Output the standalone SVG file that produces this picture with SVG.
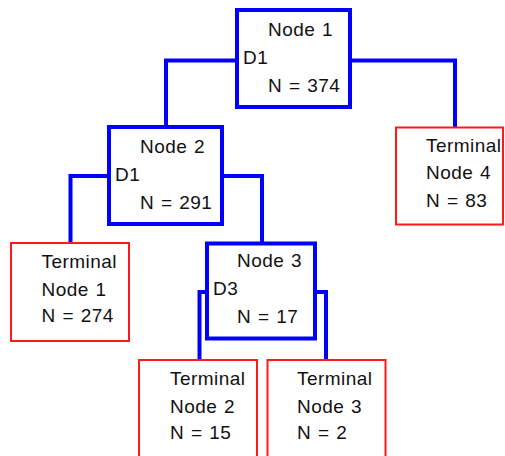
<svg xmlns="http://www.w3.org/2000/svg" width="505" height="456" viewBox="0 0 505 456">
  <style>
    .split { fill: #ffffff; stroke: #0000ff; stroke-width: 4; }
    .leaf { fill: #ffffff; stroke: #ff1a1a; stroke-width: 2; }
    .edge { fill: none; stroke: #0000ff; stroke-width: 4; }
    text { font-family: "Liberation Sans", Arial, sans-serif; font-size: 19px; letter-spacing: 0.45px; word-spacing: 1px; fill: #111111; }
  </style>
  <rect width="505" height="456" fill="#ffffff"/>

  <g id="connectors">
    <path class="edge" d="M237 60.5 H166 V127"/>
    <path class="edge" d="M350 60.5 H455 V127.5"/>
    <path class="edge" d="M109 176 H70.5 V243"/>
    <path class="edge" d="M222 176 H262 V243.5"/>
    <path class="edge" d="M207 292 H199.5 V360"/>
    <path class="edge" d="M315 292 H326 V360"/>
  </g>

  <g id="node1">
    <rect class="split" x="237" y="10" width="113" height="97"/>
    <text x="268" y="36">Node 1</text>
    <text x="243" y="64">D1</text>
    <text x="268" y="92">N = 374</text>
  </g>

  <g id="node2">
    <rect class="split" x="109" y="127" width="113" height="97"/>
    <text x="140" y="153">Node 2</text>
    <text x="115" y="181">D1</text>
    <text x="140" y="209">N = 291</text>
  </g>

  <g id="node3">
    <rect class="split" x="207" y="243.5" width="108" height="95"/>
    <text x="237" y="267">Node 3</text>
    <text x="213" y="295">D3</text>
    <text x="237" y="323">N = 17</text>
  </g>

  <g id="terminal1">
    <rect class="leaf" x="11" y="243" width="118" height="98"/>
    <text x="41.5" y="268">Terminal</text>
    <text x="41.5" y="296">Node 1</text>
    <text x="41.5" y="322">N = 274</text>
  </g>

  <g id="terminal2">
    <rect class="leaf" x="139" y="360" width="118" height="110"/>
    <text x="170" y="385">Terminal</text>
    <text x="170" y="413">Node 2</text>
    <text x="170" y="439">N = 15</text>
  </g>

  <g id="terminal3">
    <rect class="leaf" x="267.5" y="360" width="118" height="110"/>
    <text x="297" y="385">Terminal</text>
    <text x="297" y="413">Node 3</text>
    <text x="297" y="439">N = 2</text>
  </g>

  <g id="terminal4">
    <rect class="leaf" x="396" y="127.5" width="107" height="97"/>
    <text x="426" y="152">Terminal</text>
    <text x="426" y="179">Node 4</text>
    <text x="426" y="207">N = 83</text>
  </g>
</svg>
